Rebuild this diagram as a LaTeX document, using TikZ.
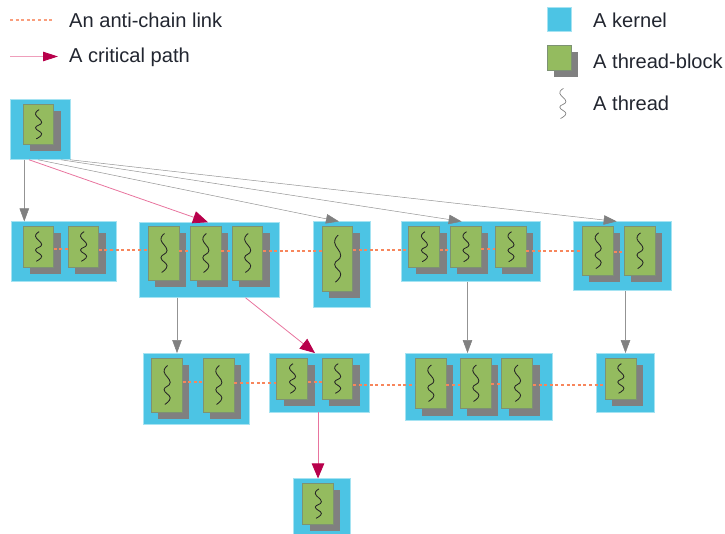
\documentclass[tikz,border=0pt]{standalone}
\usepackage{fontspec}
\setmainfont{Liberation Sans}
\usetikzlibrary{arrows.meta,fit}
\definecolor{kernelblue}{HTML}{4CC4E4}
\definecolor{kerneledge}{HTML}{A5E3F2}
\definecolor{blockgreen}{HTML}{94BB5F}
\definecolor{blockedge}{HTML}{7D9273}
\definecolor{shadowgray}{HTML}{808080}
\definecolor{critred}{HTML}{B8004B}
\definecolor{critpink}{HTML}{E8749E}
\definecolor{antiorange}{HTML}{F7865C}
\definecolor{textdark}{HTML}{222630}
\tikzset{
  kernelbox/.style={rectangle,fill=kernelblue,draw=kerneledge,line width=0.5pt,inner sep=0pt},
  blockbox/.style={rectangle,fill=blockgreen,draw=blockedge,line width=0.7pt,inner sep=0pt},
  shadowbox/.style={fill=shadowgray},
  threadline/.style={draw=black!85,line width=0.85pt},
  antichain/.style={draw=antiorange,line width=1.4pt,dash pattern=on 3pt off 2.6pt},
  graypath/.style={draw=gray!85,line width=0.5pt,-{Triangle[length=13pt,width=9.5pt,color=shadowgray]}},
  critpath/.style={draw=critpink,line width=0.8pt,-{Triangle[length=15pt,width=12.5pt,color=critred]}},
  legendtext/.style={anchor=base west,inner sep=0pt,text=textdark,font=\fontsize{20.1}{24}\selectfont},
}
\newcommand{\kbox}[5]{\node[kernelbox,fit={(#2,#3)(#4,#5)}] (#1) {};}
% shadow, green block and its thread
\newcommand{\tblock}[5]{%
  \fill[shadowbox] (#2+7,#3+7) rectangle (#4+7,#5+7);
  \node[blockbox,fit={(#2,#3)(#4,#5)}] (#1) {};
  \pgfmathsetmacro{\threadcx}{(#2+#4)/2}
  \pgfmathsetmacro{\threadtop}{#3+0.14*(#5-#3)}
  \pgfmathsetmacro{\threadh}{0.72*(#5-#3)}
  \begin{scope}[shift={(\threadcx,\threadtop)},yscale=\threadh]
    \draw[threadline] plot[smooth,tension=0.8] coordinates {(0.9,0) (-2.7,0.16) (3.4,0.435) (-2.7,0.62) (3.4,0.83) (-2,1)};
  \end{scope}}
\newcommand{\anti}[3]{\draw[antichain] (#1.east |- 0,#3) -- (#2.west |- 0,#3);}
\begin{document}
\begin{tikzpicture}[x=1pt,y=-1pt]
\useasboundingbox (0,0) rectangle (725,534);

% kernels
\kbox{kA}{10.5}{99.5}{70.5}{159.5}
\kbox{kB}{11.5}{221.7}{116}{281.5}
\kbox{kC}{139}{222.5}{279.5}{297.5}
\kbox{kD}{313}{221.7}{370}{307}
\kbox{kE}{401}{221.7}{540.7}{281.7}
\kbox{kF}{573.3}{221.7}{671.3}{290.7}
\kbox{kG}{143.3}{353.3}{249.7}{424}
\kbox{kH}{269}{353.3}{369}{412}
\kbox{kI}{405.3}{353.3}{552.3}{420.3}
\kbox{kJ}{596}{353.3}{654.7}{412}
\kbox{kK}{293.7}{478.7}{350.7}{540}

% thread blocks
\tblock{a1}{23}{104}{53.5}{144.5}
\tblock{b1}{23}{226}{53.5}{267}
\tblock{b2}{68}{226}{98.5}{267}
\tblock{c1}{148.3}{226}{179}{280}
\tblock{c2}{190}{226}{221}{280}
\tblock{c3}{232}{226}{262.7}{280}
\tblock{d1}{322}{226}{352.7}{291.3}
\tblock{e1}{408.7}{226}{439.5}{267.5}
\tblock{e2}{450.3}{226}{481}{267.5}
\tblock{e3}{495.3}{226}{526}{267.5}
\tblock{f1}{582.3}{226}{613.3}{275.5}
\tblock{f2}{624.3}{226}{655}{275.5}
\tblock{g1}{151.3}{358}{182.3}{412}
\tblock{g2}{203}{358}{234}{412}
\tblock{h1}{276.7}{358}{307.7}{399}
\tblock{h2}{322}{358}{352.7}{399}
\tblock{i1}{415}{358}{446}{408.5}
\tblock{i2}{460}{358}{491}{408.5}
\tblock{i3}{501.7}{358}{532.7}{408.5}
\tblock{j1}{605}{358}{636}{399}
\tblock{k1}{302.7}{483.3}{333.3}{524}

% anti-chain links
\anti{b1}{b2}{249}
\anti{b2}{c1}{250}
\anti{c1}{c2}{251}
\anti{c2}{c3}{251}
\anti{c3}{d1}{251}
\anti{d1}{e1}{250}
\anti{e1}{e2}{250}
\anti{e2}{e3}{249}
\anti{e3}{f1}{251}
\anti{f1}{f2}{252}
\anti{g1}{g2}{382}
\anti{g2}{h1}{383}
\anti{h1}{h2}{382}
\anti{h2}{i1}{385}
\anti{i1}{i2}{385}
\anti{i2}{i3}{384}
\anti{i3}{j1}{385}

% paths
\draw[graypath] (kA.south -| 24.3,0) -- (kB.north -| 24.3,0);
\draw[graypath] (kA.south -| 38,0) -- (kD.north -| 339,0);
\draw[graypath] (kA.south -| 61,0) -- (kE.north -| 461.7,0);
\draw[graypath] (kA.south -| 70,0) -- (kF.north -| 616.7,0);
\draw[graypath] (kC.south -| 177,0) -- (kG.north -| 177,0);
\draw[graypath] (kE.south -| 467.5,0) -- (kI.north -| 467.5,0);
\draw[graypath] (kF.south -| 625.5,0) -- (kJ.north -| 625.5,0);
\draw[critpath] (kA.south -| 29,0) -- (kC.north -| 208,0);
\draw[critpath] (kC.south -| 245.5,0) -- (kH.north -| 315,0);
\draw[critpath] (kH.south -| 318,0) -- (kK.north -| 318,0);

% legend
\coordinate (antiL) at (10,20);
\coordinate (antiR) at (53,20);
\draw[antichain,draw=antiorange!80] (antiL) -- (antiR);
\node[legendtext] (tAnti) at (69,27.5) {An anti-chain link};
\coordinate (critL) at (10,56.5);
\coordinate (critR) at (58,56.5);
\draw[critpath,draw=critpink!70,-{Triangle[length=15pt,width=9.5pt,color=critred]}] (critL) -- (critR);
\node[legendtext] (tCrit) at (69,62.5) {A critical path};
\kbox{lK}{547}{7}{571}{31}
\node[legendtext] (tK) at (593,27.5) {A kernel};
\fill[shadowbox] (553.5,52) rectangle (578,77);
\node[blockbox,fit={(547,45.7)(571.5,70)}] (lB) {};
\node[legendtext] (tB) at (593,68.5) {A thread-block};
\begin{scope}[shift={(562.5,88.5)},yscale=30]
  \draw[draw=gray,line width=0.7pt] plot[smooth,tension=0.8] coordinates {(0.9,0) (-2.7,0.16) (3.4,0.435) (-2.7,0.62) (3.4,0.83) (-2,1)};
\end{scope}
\node[legendtext] (tT) at (593,110.5) {A thread};
\end{tikzpicture}
\end{document}
